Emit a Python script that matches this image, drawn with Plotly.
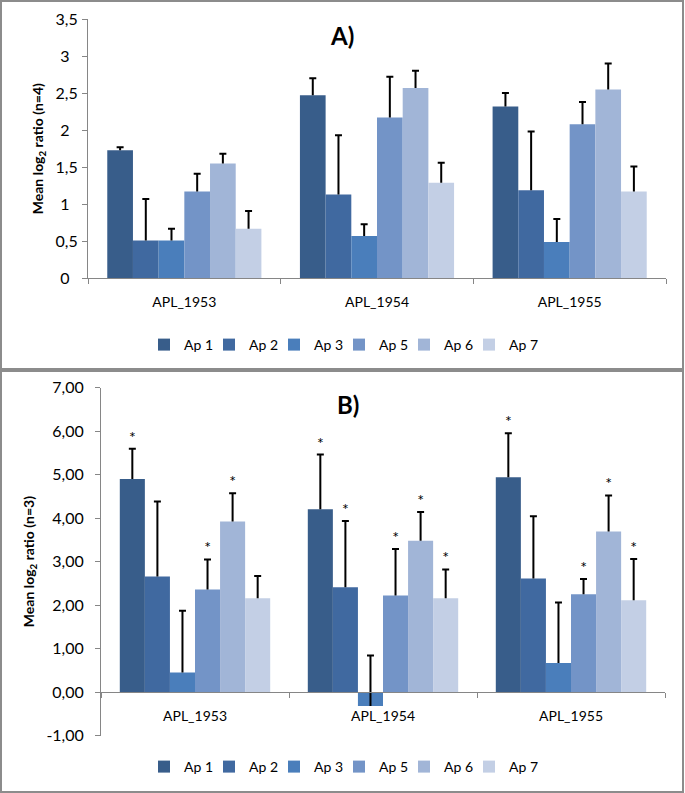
import plotly.graph_objects as go

categories = ["APL_1953", "APL_1954", "APL_1955"]
series_names = ["Ap 1", "Ap 2", "Ap 3", "Ap 5", "Ap 6", "Ap 7"]
colors = ["#385D8A", "#4069A0", "#4A7EBB", "#7394C7", "#A1B5D7", "#C3CFE5"]

# Panel A (n=4): means and upper error bars
a_ap1 = [1.73, 2.47, 2.32]
a_ap2 = [0.51, 1.13, 1.19]
a_ap3 = [0.51, 0.57, 0.49]
a_ap5 = [1.17, 2.17, 2.08]
a_ap6 = [1.55, 2.57, 2.55]
a_ap7 = [0.67, 1.29, 1.17]
a_err1 = [0.04, 0.23, 0.18]
a_err2 = [0.56, 0.80, 0.79]
a_err3 = [0.16, 0.16, 0.31]
a_err5 = [0.24, 0.55, 0.30]
a_err6 = [0.13, 0.23, 0.35]
a_err7 = [0.24, 0.27, 0.34]

# Panel B (n=3): means, upper error bars, significance marks
b_ap1 = [4.90, 4.20, 4.94]
b_ap2 = [2.66, 2.41, 2.61]
b_ap3 = [0.45, -0.32, 0.67]
b_ap5 = [2.36, 2.22, 2.25]
b_ap6 = [3.92, 3.48, 3.69]
b_ap7 = [2.16, 2.16, 2.11]
b_err1 = [0.69, 1.26, 1.01]
b_err2 = [1.72, 1.52, 1.43]
b_err3 = [1.42, 1.16, 1.39]
b_err5 = [0.69, 1.07, 0.35]
b_err6 = [0.65, 0.66, 0.83]
b_err7 = [0.51, 0.66, 0.95]
b_sig1 = [True, True, True]
b_sig2 = [False, True, False]
b_sig3 = [False, False, False]
b_sig5 = [True, True, True]
b_sig6 = [True, True, True]
b_sig7 = [False, True, True]

NB = "\u00a0"
a_ticks = [0, 0.5, 1, 1.5, 2, 2.5, 3, 3.5]
a_ticktext = ["0" + NB * 2, "0,5", "1" + NB * 2, "1,5", "2" + NB * 2, "2,5", "3" + NB * 2, "3,5"]
b_ticks = [-1, 0, 1, 2, 3, 4, 5, 6, 7]
b_ticktext = ["-1,00", "0,00", "1,00", "2,00", "3,00", "4,00", "5,00", "6,00", "7,00"]

a_vals = [a_ap1, a_ap2, a_ap3, a_ap5, a_ap6, a_ap7]
a_errs = [a_err1, a_err2, a_err3, a_err5, a_err6, a_err7]
b_vals = [b_ap1, b_ap2, b_ap3, b_ap5, b_ap6, b_ap7]
b_errs = [b_err1, b_err2, b_err3, b_err5, b_err6, b_err7]
b_sigs = [b_sig1, b_sig2, b_sig3, b_sig5, b_sig6, b_sig7]

FONT = "Lato"
W, H = 685, 793

fig = go.Figure()


def stem(arr):
    # vertical line only (no caps), from the bar value upward
    return dict(type="data", symmetric=False, array=arr, arrayminus=[0] * len(arr),
                color="black", thickness=2, width=0)


def cap(n):
    return dict(type="data", array=[0] * n, color="black", thickness=2, width=3.5)


def add_panel(vals, errs, sigs, xa, ya, legend_name):
    last = len(series_names) - 1
    for i, name in enumerate(series_names):
        fig.add_trace(go.Bar(
            x=categories, y=vals[i], name=name,
            marker=dict(color=colors[i], line=dict(width=0)),
            error_y=stem(errs[i]), xaxis=xa, yaxis=ya, offsetgroup=str(i),
            legend=legend_name, legendwidth=(32 if i == last else 20),
            hoverinfo="skip"))
    for i, name in enumerate(series_names):
        tops = [v + e for v, e in zip(vals[i], errs[i])]
        texts = ["*" if s else "" for s in sigs[i]] if sigs else [""] * len(tops)
        fig.add_trace(go.Bar(
            x=categories, y=tops, text=texts,
            textposition="outside", textfont=dict(family=FONT, size=16, color="black"),
            marker=dict(color="rgba(0,0,0,0)", line=dict(width=0)), cliponaxis=False,
            error_y=cap(len(tops)),
            xaxis=xa, yaxis=ya, offsetgroup=str(i), showlegend=False, hoverinfo="skip"))


add_panel(a_vals, a_errs, None, "x", "y", "legend")
add_panel(b_vals, b_errs, b_sigs, "x2", "y2", "legend2")

axis_line = "#868686"
cat_font = dict(family=FONT, size=14, color="black")
val_font = dict(family=FONT, size=16, color="black")
title_font = dict(family=FONT, size=14, color="black")
leg_font = dict(family=FONT, size=14, color="black")

fig.update_layout(
    width=W, height=H,
    margin=dict(l=0, r=0, t=0, b=0, pad=0, autoexpand=False),
    paper_bgcolor="white", plot_bgcolor="white",
    barmode="group", bargap=0.2, bargroupgap=0,
    font=dict(family=FONT, size=14, color="black"),
    xaxis=dict(domain=[88 / W, 666 / W], anchor="y", type="category",
               showline=True, linecolor=axis_line, linewidth=1,
               ticks="outside", ticklen=5, tickcolor=axis_line, tickson="boundaries",
               tickfont=cat_font, ticklabelstandoff=11, showgrid=False, zeroline=False),
    yaxis=dict(domain=[1 - 278.3 / H, 1 - 19 / H], anchor="x", range=[0, 3.5],
               tickvals=a_ticks, ticktext=a_ticktext,
               showline=True, linecolor=axis_line, linewidth=1,
               ticks="outside", ticklen=5, tickcolor=axis_line, tickfont=val_font,
               ticklabelstandoff=1, showgrid=False, zeroline=False,
               title=dict(text="<b>Mean log<sub>2</sub> ratio (n=4)</b>",
                          font=title_font, standoff=8)),
    xaxis2=dict(domain=[101 / W, 665 / W], anchor="free", position=1 - 692.2 / H,
                type="category",
                showline=True, linecolor=axis_line, linewidth=1,
                ticks="outside", ticklen=5, tickcolor=axis_line, tickson="boundaries",
                tickfont=cat_font, ticklabelstandoff=11, showgrid=False, zeroline=False),
    yaxis2=dict(domain=[1 - 735.7 / H, 1 - 387.5 / H], anchor="x2", range=[-1, 7],
                tickvals=b_ticks, ticktext=b_ticktext,
                showline=True, linecolor=axis_line, linewidth=1,
                ticks="outside", ticklen=5, tickcolor=axis_line, tickfont=val_font,
                ticklabelstandoff=8, showgrid=False, zeroline=False,
                title=dict(text="<b>Mean log<sub>2</sub> ratio (n=3)</b>",
                           font=title_font, standoff=8)),
    legend=dict(orientation="h", x=345 / W, xanchor="center", y=1 - 345 / H, yanchor="middle",
                font=leg_font, bgcolor="rgba(0,0,0,0)", entrywidthmode="pixels"),
    legend2=dict(orientation="h", x=345 / W, xanchor="center", y=1 - 767 / H, yanchor="middle",
                 font=leg_font, bgcolor="rgba(0,0,0,0)", entrywidthmode="pixels"),
    annotations=[
        dict(text="<b>A)</b>", x=342 / W, y=1 - 35 / H, xref="paper", yref="paper",
             xanchor="center", yanchor="middle",
             showarrow=False, font=dict(family=FONT, size=24, color="black")),
        dict(text="<b>B)</b>", x=348 / W, y=1 - 404 / H, xref="paper", yref="paper",
             xanchor="center", yanchor="middle",
             showarrow=False, font=dict(family=FONT, size=24, color="black")),
    ],
    shapes=[
        dict(type="rect", xref="paper", yref="paper", x0=1 / W, x1=683 / W,
             y0=1 - 369 / H, y1=1 - 1 / H, line=dict(color="#8C8C8C", width=2)),
        dict(type="rect", xref="paper", yref="paper", x0=1 / W, x1=683 / W,
             y0=1 - 792 / H, y1=1 - 371 / H, line=dict(color="#8C8C8C", width=2)),
    ],
)

fig.write_html("out.html", config={"displayModeBar": False},
               post_script="document.body.style.margin='0';")
